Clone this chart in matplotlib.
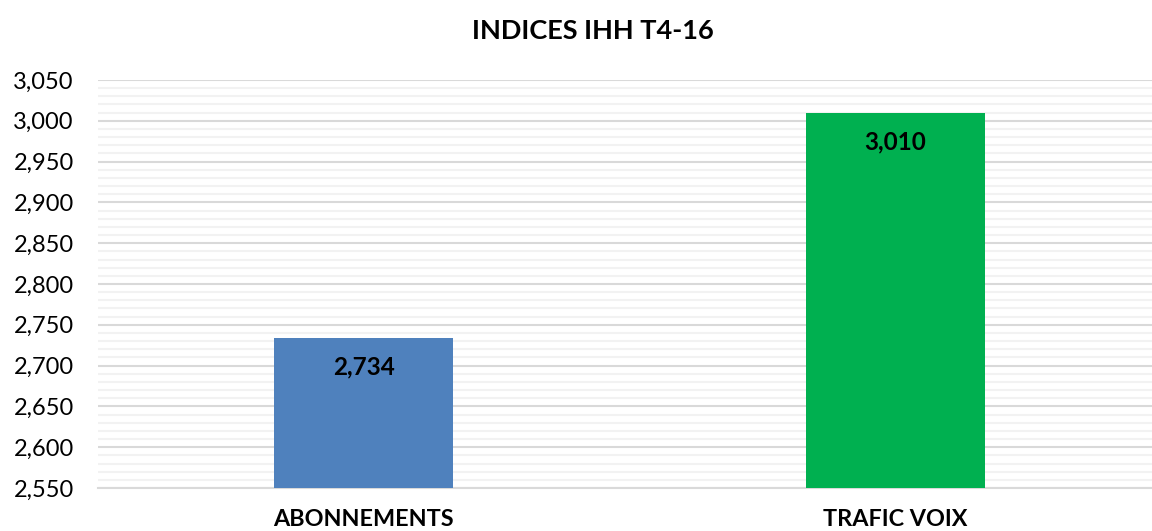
import matplotlib
matplotlib.use("Agg")
import matplotlib.pyplot as plt
import matplotlib.ticker as ticker

categories = ["ABONNEMENTS", "TRAFIC VOIX"]
values = [2734, 3010]
colors = ["#4F81BD", "#00B050"]
title = "INDICES IHH T4-16"

plt.rcParams["font.family"] = ["Lato", "DejaVu Sans"]

W, H = 1152, 531
fig = plt.figure(figsize=(W / 100, H / 100), dpi=100)
# axes runs slightly past the right edge of the canvas
ax = fig.add_axes([97.5 / W, 43 / H, 1064 / W, 408 / H])

x = range(len(categories))
ax.bar(x, values, width=0.336, color=colors, zorder=3)

for xi, v in zip(x, values):
    ax.annotate(f"{v:,}", xy=(xi, v), xytext=(0, -21), textcoords="offset points",
                ha="center", va="center", fontsize=17.5, fontweight="bold", color="black",
                zorder=4)

ax.set_xlim(-0.5, 1.5)
ax.set_ylim(2550, 3050)
ax.yaxis.set_major_locator(ticker.MultipleLocator(50))
ax.yaxis.set_minor_locator(ticker.MultipleLocator(10))
ax.yaxis.set_major_formatter(ticker.FuncFormatter(lambda v, p: f"{v:,.0f}"))

ax.grid(True, which="major", axis="y", color="#D9D9D9", linewidth=1.5, zorder=0)
ax.grid(True, which="minor", axis="y", color="#F2F2F2", linewidth=1.5, zorder=0)
ax.set_axisbelow(True)

for s in ["top", "right", "left"]:
    ax.spines[s].set_visible(False)
ax.spines["bottom"].set_color("#D9D9D9")
ax.spines["bottom"].set_linewidth(1.5)

ax.set_xticks(list(x))
ax.set_xticklabels(categories, fontsize=16.8, fontweight="bold")
ax.tick_params(axis="x", length=0, pad=15)
ax.tick_params(axis="y", which="both", length=0, labelsize=17, pad=17, colors="black")

fig.text(593 / W, 1 - 31 / H, title, ha="center", va="center",
         fontsize=19.5, fontweight="bold")

fig.savefig("out.png", dpi=100, facecolor="white")
